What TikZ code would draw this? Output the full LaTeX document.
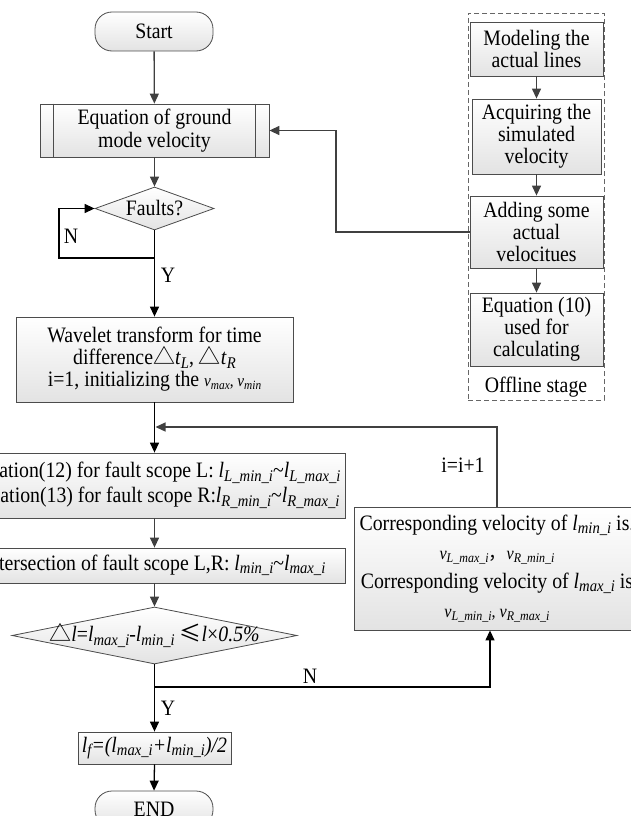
\documentclass[tikz,border=0pt]{standalone}
\usepackage{fontspec}
\setmainfont{Liberation Serif}[FakeStretch=0.9]
\newfontfamily\cjk{Noto Sans CJK SC}
\usetikzlibrary{arrows.meta,shapes.geometric}
\newcommand{\lsub}[2]{\textit{#1}\raisebox{-0.35ex}{\scalebox{0.74}{\itshape #2}}}
\begin{document}
\begin{tikzpicture}[x=1pt,y=-1pt,
  font=\fontsize{22}{22}\selectfont,
  >={Triangle[length=10pt,width=9pt]},
  box/.style={draw=black!70, line width=0.8pt, top color=white, bottom color=black!11, inner sep=0pt, align=center},
  term/.style={box, rounded corners=17pt},
  dia/.style={draw=black!70, line width=0.8pt, shape=diamond, top color=white, bottom color=black!11, inner sep=0pt},
  gline/.style={draw=black!75, line width=1.3pt},
  bline/.style={draw=black, line width=1.3pt},
  lab/.style={inner sep=0pt}
]
\useasboundingbox (0,0) rectangle (631,816);
\clip (0,0) rectangle (631,816);

% main column
\node[term, minimum width=118pt, minimum height=39pt] (start) at (154,31.5) {Start};
\node[box, minimum width=229pt, minimum height=53pt, font=\fontsize{22}{23}\selectfont] (eq) at (154.5,130.5) {Equation of ground\\mode velocity};
\draw[draw=black!70, line width=0.8pt] ([xshift=14pt]eq.north west) -- ([xshift=14pt]eq.south west);
\draw[draw=black!70, line width=0.8pt] ([xshift=-14pt]eq.north east) -- ([xshift=-14pt]eq.south east);
\node[dia, minimum width=119pt, minimum height=43pt] (faults) at (154.5,208.5) {};
\node[lab] (faultstxt) at (faults.center) {Faults?};

\node[box, minimum width=277pt, minimum height=85pt, font=\fontsize{22}{22}\selectfont] (wave) at (154.5,359.5)
  {Wavelet transform for time\\ difference{\cjk △}\lsub{t}{L}, {\cjk △}\lsub{t}{R}\\ i=1, initializing the {\fontsize{17}{17}\selectfont\lsub{v}{max}, \lsub{v}{min}}};

\node[box, minimum width=382pt, minimum height=65pt, font=\fontsize{22}{25}\selectfont] (scope) at (154,485.5)
  {Equation(12) for fault scope L: \lsub{l}{L\_min\_i}\textasciitilde\lsub{l}{L\_max\_i}\\
   Equation(13) for fault scope R:\lsub{l}{R\_min\_i}\textasciitilde\lsub{l}{R\_max\_i}};

\node[box, minimum width=382pt, minimum height=35pt] (inter) at (154,565.5)
  {Intersection of fault scope L,R: \lsub{l}{min\_i}\textasciitilde\lsub{l}{max\_i}};

\node[dia, minimum width=285pt, minimum height=57pt] (cond) at (154.5,635.5) {};
\node[lab] (condtxt) at (cond.center) {{\cjk △}\textit{l}=\lsub{l}{max\_i}-\lsub{l}{min\_i} {\cjk ≤}\textit{l}×\textit{0.5\%}};

\node[box, minimum width=153pt, minimum height=32pt] (lf) at (154.5,748) {\itshape \lsub{l}{f}=(\lsub{l}{max\_i}+\lsub{l}{min\_i})/2};
\node[term, minimum width=118pt, minimum height=36pt] (end) at (154,809) {END};

% right update box
\node[box, minimum width=286pt, minimum height=123pt, font=\fontsize{22}{29}\selectfont] (corr) at (497,568.5)
  {Corresponding velocity of \lsub{l}{min\_i} is.\\
   {\fontsize{18}{29}\selectfont \lsub{v}{L\_max\_i}{\cjk ，}\lsub{v}{R\_min\_i}}\\
   Corresponding velocity of \lsub{l}{max\_i} is\\
   {\fontsize{18}{29}\selectfont \lsub{v}{L\_min\_i}, \lsub{v}{R\_max\_i}}};

% offline stage
\node[draw=black!60, line width=0.8pt, dash pattern=on 5pt off 3pt, minimum width=136pt, minimum height=387pt, inner sep=0pt] (offline) at (536,206.5) {};
\node[box, minimum width=133pt, minimum height=54pt] (m1) at (536.5,49) {Modeling the\\actual lines};
\node[box, minimum width=129pt, minimum height=75pt] (m2) at (536.5,136.5) {Acquiring the\\simulated\\velocity};
\node[box, minimum width=133pt, minimum height=72pt] (m3) at (536.5,232) {Adding some\\actual\\velocitues};
\node[box, minimum width=133pt, minimum height=73pt] (m4) at (536.5,329.5) {Equation (10)\\used for\\calculating};
\node[lab] (offtxt) at (536,387) {Offline stage};

% connectors
\draw[gline,->] (start) -- (eq);
\draw[gline,->] (eq) -- (faults);
\draw[bline,->] (faults.south) -- (wave.north);
\coordinate (nj) at (154.5,258);
\coordinate (nl) at (59,258);
\draw[bline,->] (nj) -- (nl) |- (faults.west);
\node[lab] (nlab1) at (71,236) {N};
\node[lab] (ylab1) at (168,275) {Y};

\draw[bline,->] (wave.south) -- (scope.north -| wave.south);
\coordinate (fb) at (155.5,427);
\coordinate (fbr) at (497,427);
\draw[gline,->] (corr.north) -- (fbr) -- (fb);
\node[lab] (inc) at (463,465) {i=i+1};

\draw[gline,->] (scope.south -| wave.south) -- (inter.north -| wave.south);
\draw[gline,->] (inter.south -| wave.south) -- (cond.north);
\draw[bline,->] (cond.south) -- (lf.north);
\coordinate (cj) at (154.5,687);
\coordinate (cr) at (490,687);
\draw[bline,->] (cj) -- (cr) -- (cr |- corr.south);
\node[lab] (nlab2) at (310,676) {N};
\node[lab] (ylab2) at (168,708) {Y};
\draw[bline,->] (lf.south) -- (end.north);

\draw[gline,->] (m1) -- (m2);
\draw[gline,->] (m2) -- (m3);
\draw[gline,->] (m3) -- (m4);
\coordinate (oc) at (336,232);
\draw[gline,->] (m3.west) -- (oc) |- (eq.east);
\end{tikzpicture}
\end{document}
